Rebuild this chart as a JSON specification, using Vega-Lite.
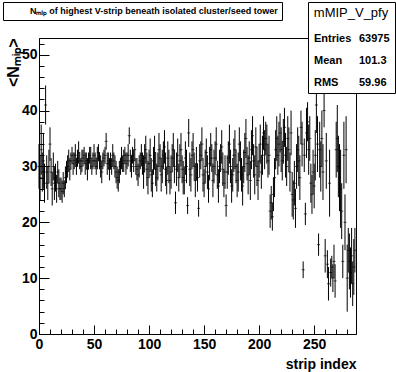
{
 "$schema": "https://vega.github.io/schema/vega-lite/v6.json",
 "width": 317, "height": 296,
 "autosize": {"type": "none"},
 "padding": {"left": 39, "top": 38, "right": 40, "bottom": 38},
 "background": "white",
 "config": {
  "view": {"stroke": "black", "strokeWidth": 1},
  "font": "Liberation Sans",
  "axis": {"domainColor": "black", "tickColor": "black", "labelColor": "black", "titleColor": "black", "grid": false, "labelFont": "Liberation Sans", "labelFontWeight": "bold", "labelFontSize": 14, "titleFont": "Liberation Sans", "titleFontWeight": "bold", "domainWidth": 1, "tickWidth": 1, "labelFlush": false, "labelOverlap": false}
 },
 "datasets": {
  "prof": [
{"s":0,"m":30,"e":4},{"s":1,"m":28,"e":4},{"s":2,"m":33,"e":4.5},{"s":3,"m":29,"e":3.5},{"s":4,"m":31,"e":5},{"s":5,"m":27,"e":3.5},{"s":6,"m":41,"e":3.5},{"s":7,"m":29,"e":3},{"s":8,"m":27,"e":3},{"s":9,"m":30,"e":3},
{"s":10,"m":34,"e":3},{"s":11,"m":29,"e":2.5},{"s":12,"m":26,"e":3},{"s":13,"m":30,"e":2.5},{"s":14,"m":27,"e":3},{"s":15,"m":28,"e":2.5},{"s":16,"m":26,"e":2.5},{"s":17,"m":29,"e":2},{"s":18,"m":27,"e":2.5},{"s":19,"m":26,"e":2},
{"s":20,"m":26,"e":2},{"s":21,"m":25.5,"e":2},{"s":22,"m":27,"e":2},{"s":23,"m":26,"e":1.5},{"s":24,"m":28,"e":2},{"s":25,"m":29,"e":2},{"s":26,"m":30,"e":2},{"s":27,"m":31,"e":2},{"s":28,"m":29.5,"e":2},{"s":29,"m":31,"e":1.5},
{"s":30,"m":32,"e":1.5},{"s":31,"m":30.5,"e":2},{"s":32,"m":31,"e":1.5},{"s":33,"m":32,"e":2},{"s":34,"m":30,"e":1.5},{"s":35,"m":31.5,"e":1.5},{"s":36,"m":32.5,"e":2},{"s":37,"m":31,"e":1.5},{"s":38,"m":30,"e":1.5},{"s":39,"m":31,"e":2},
{"s":40,"m":31.5,"e":1.5},{"s":41,"m":32,"e":1.5},{"s":42,"m":30.5,"e":2},{"s":43,"m":31,"e":1.5},{"s":44,"m":29.5,"e":2},{"s":45,"m":31,"e":1.5},{"s":46,"m":32,"e":1.5},{"s":47,"m":31.5,"e":2},{"s":48,"m":30,"e":1.5},{"s":49,"m":31,"e":1.5},
{"s":50,"m":32,"e":2},{"s":51,"m":31,"e":1.5},{"s":52,"m":30,"e":1.5},{"s":53,"m":31.5,"e":2},{"s":54,"m":32.5,"e":1.5},{"s":55,"m":31,"e":1.5},{"s":56,"m":30,"e":2},{"s":57,"m":29,"e":2},{"s":58,"m":31,"e":1.5},{"s":59,"m":31.5,"e":1.5},
{"s":60,"m":32,"e":1.5},{"s":61,"m":34.5,"e":1.5},{"s":62,"m":30.5,"e":2},{"s":63,"m":31,"e":1.5},{"s":64,"m":29.5,"e":2},{"s":65,"m":31,"e":1.5},{"s":66,"m":30,"e":1.5},{"s":67,"m":32,"e":2},{"s":68,"m":31,"e":1.5},{"s":69,"m":30,"e":2},
{"s":70,"m":29,"e":2},{"s":71,"m":28,"e":2},{"s":72,"m":27.5,"e":2},{"s":73,"m":29,"e":2},{"s":74,"m":30,"e":1.5},{"s":75,"m":31.5,"e":2},{"s":76,"m":30.5,"e":1.5},{"s":77,"m":31,"e":2},{"s":78,"m":32,"e":1.5},{"s":79,"m":30.5,"e":2},
{"s":80,"m":31,"e":1.5},{"s":81,"m":32,"e":2},{"s":82,"m":35.5,"e":1.5},{"s":83,"m":31,"e":2},{"s":84,"m":30,"e":2},{"s":85,"m":32,"e":1.5},{"s":86,"m":31,"e":2},{"s":87,"m":33,"e":2},{"s":88,"m":30,"e":1.5},{"s":89,"m":29.5,"e":2},
{"s":90,"m":28.5,"e":2},{"s":91,"m":30,"e":2},{"s":92,"m":31,"e":1.5},{"s":93,"m":32,"e":2},{"s":94,"m":30.5,"e":2},{"s":95,"m":29,"e":3},{"s":96,"m":31.5,"e":2.5},{"s":97,"m":33,"e":2.5},{"s":98,"m":29.5,"e":3},{"s":99,"m":28,"e":3},
{"s":100,"m":30.5,"e":2.5},{"s":101,"m":32,"e":3},{"s":102,"m":28.5,"e":3},{"s":103,"m":27,"e":2.5},{"s":104,"m":31,"e":2.5},{"s":105,"m":32.5,"e":3},{"s":106,"m":29.5,"e":3},{"s":107,"m":28,"e":2.5},{"s":108,"m":30,"e":2.5},{"s":109,"m":33,"e":3},
{"s":110,"m":31.5,"e":2.5},{"s":111,"m":28.5,"e":3},{"s":112,"m":30,"e":3},{"s":113,"m":32,"e":2.5},{"s":114,"m":33.5,"e":3},{"s":115,"m":29.5,"e":3},{"s":116,"m":27.5,"e":2.5},{"s":117,"m":31.5,"e":3},{"s":118,"m":30,"e":3},{"s":119,"m":27.5,"e":2.5},
{"s":120,"m":29,"e":3},{"s":121,"m":31.5,"e":2.5},{"s":122,"m":33,"e":3},{"s":123,"m":30,"e":3},{"s":124,"m":23.5,"e":2},{"s":125,"m":29.5,"e":3},{"s":126,"m":32,"e":3},{"s":127,"m":28,"e":2.5},{"s":128,"m":31,"e":3},{"s":129,"m":33,"e":3},
{"s":130,"m":29.5,"e":2.5},{"s":131,"m":28,"e":3},{"s":132,"m":27.5,"e":2.5},{"s":133,"m":31.5,"e":3},{"s":134,"m":30,"e":3},{"s":135,"m":23,"e":1.5},{"s":136,"m":36,"e":2.5},{"s":137,"m":29.5,"e":3},{"s":138,"m":28.5,"e":3},{"s":139,"m":32,"e":2.5},
{"s":140,"m":33,"e":3},{"s":141,"m":30,"e":2.5},{"s":142,"m":27.5,"e":3},{"s":143,"m":30.5,"e":3},{"s":144,"m":28,"e":2.5},{"s":145,"m":22.5,"e":1.5},{"s":146,"m":31,"e":3},{"s":147,"m":32,"e":2.5},{"s":148,"m":34,"e":3},{"s":149,"m":28.5,"e":3},
{"s":150,"m":27,"e":2.5},{"s":151,"m":30,"e":3},{"s":152,"m":32.5,"e":2.5},{"s":153,"m":29,"e":3},{"s":154,"m":26,"e":2.5},{"s":155,"m":30.5,"e":3},{"s":156,"m":33,"e":3},{"s":157,"m":31.5,"e":2.5},{"s":158,"m":27.5,"e":3},{"s":159,"m":30,"e":3},
{"s":160,"m":31.5,"e":3},{"s":161,"m":34,"e":3},{"s":162,"m":28.5,"e":2.5},{"s":163,"m":26.5,"e":3},{"s":164,"m":30,"e":3},{"s":165,"m":31.5,"e":2.5},{"s":166,"m":33.5,"e":3},{"s":167,"m":29.5,"e":3},{"s":168,"m":27,"e":2.5},{"s":169,"m":29,"e":3},
{"s":170,"m":23,"e":2},{"s":171,"m":29,"e":3},{"s":172,"m":31.5,"e":3},{"s":173,"m":34,"e":3.5},{"s":174,"m":30,"e":3},{"s":175,"m":26.5,"e":3},{"s":176,"m":28.5,"e":3},{"s":177,"m":32,"e":3},{"s":178,"m":33,"e":3.5},{"s":179,"m":30,"e":3},
{"s":180,"m":27.5,"e":3},{"s":181,"m":29,"e":3.5},{"s":182,"m":34,"e":3},{"s":183,"m":31,"e":3.5},{"s":184,"m":28.5,"e":3},{"s":185,"m":26.5,"e":3.5},{"s":186,"m":30,"e":3},{"s":187,"m":32.5,"e":3.5},{"s":188,"m":35,"e":3.5},{"s":189,"m":30.5,"e":3},
{"s":190,"m":28.5,"e":3.5},{"s":191,"m":31.5,"e":3},{"s":192,"m":27.5,"e":3.5},{"s":193,"m":33,"e":3.5},{"s":194,"m":35.5,"e":3.5},{"s":195,"m":31,"e":3},{"s":196,"m":28.5,"e":3.5},{"s":197,"m":33.5,"e":3.5},{"s":198,"m":30,"e":3.5},{"s":199,"m":27.5,"e":3.5},
{"s":200,"m":31,"e":3},{"s":201,"m":34,"e":3.5},{"s":202,"m":29,"e":3},{"s":203,"m":32,"e":3.5},{"s":204,"m":36,"e":3},{"s":205,"m":33,"e":3.5},{"s":206,"m":35,"e":3},{"s":207,"m":34,"e":3.5},{"s":208,"m":31,"e":3},{"s":209,"m":32,"e":3.5},
{"s":210,"m":22,"e":3},{"s":211,"m":23.5,"e":3},{"s":212,"m":21,"e":2.5},{"s":213,"m":25,"e":3},{"s":214,"m":28,"e":3.5},{"s":215,"m":33,"e":3.5},{"s":216,"m":35,"e":4},{"s":217,"m":32,"e":3.5},{"s":218,"m":34,"e":4},{"s":219,"m":36,"e":3.5},
{"s":220,"m":33,"e":4},{"s":221,"m":31,"e":3.5},{"s":222,"m":34.5,"e":4},{"s":223,"m":37,"e":3.5},{"s":224,"m":32,"e":4},{"s":225,"m":30,"e":3.5},{"s":226,"m":35,"e":4},{"s":227,"m":33,"e":4},{"s":228,"m":29,"e":3.5},{"s":229,"m":36,"e":4},
{"s":230,"m":25,"e":4},{"s":231,"m":24,"e":3.5},{"s":232,"m":27,"e":4},{"s":233,"m":22.5,"e":3.5},{"s":234,"m":30,"e":4},{"s":235,"m":33,"e":4},{"s":236,"m":31,"e":4.5},{"s":237,"m":28,"e":4},{"s":238,"m":37,"e":3},{"s":239,"m":34,"e":4},
{"s":240,"m":11.5,"e":1.5},{"s":241,"m":32,"e":3},{"s":242,"m":21.5,"e":2},{"s":243,"m":36,"e":4.5},{"s":244,"m":38,"e":3.5},{"s":245,"m":33,"e":4.5},{"s":246,"m":35,"e":4},{"s":247,"m":27,"e":3.5},{"s":248,"m":25,"e":3.5},{"s":249,"m":29,"e":4},
{"s":250,"m":26.5,"e":4},{"s":251,"m":32,"e":4.5},{"s":252,"m":41,"e":5},{"s":253,"m":34,"e":5},{"s":254,"m":16,"e":2},{"s":255,"m":33,"e":5},{"s":256,"m":30,"e":4.5},{"s":257,"m":35,"e":5},{"s":258,"m":29,"e":5},{"s":259,"m":40,"e":3},
{"s":260,"m":14,"e":3},{"s":261,"m":31,"e":5},{"s":262,"m":12.5,"e":2.5},{"s":263,"m":9,"e":3},{"s":264,"m":27,"e":6},{"s":265,"m":11,"e":2.5},{"s":266,"m":12,"e":2},{"s":267,"m":10,"e":2.5},{"s":268,"m":13,"e":3},{"s":269,"m":9.5,"e":3},
{"s":270,"m":33,"e":5},{"s":271,"m":35,"e":6},{"s":272,"m":30,"e":5.5},{"s":273,"m":28,"e":6},{"s":274,"m":26,"e":7},{"s":275,"m":22,"e":5},{"s":276,"m":13,"e":3},{"s":277,"m":32,"e":6},{"s":278,"m":20,"e":5},{"s":279,"m":33,"e":6},
{"s":280,"m":10,"e":6},{"s":281,"m":15,"e":4},{"s":282,"m":13,"e":5},{"s":283,"m":11,"e":4.5},{"s":284,"m":14,"e":5},{"s":285,"m":9,"e":4},{"s":286,"m":12,"e":5},{"s":287,"m":15,"e":4}
  ],
  "stats": [{"k": "Entries"}, {"k": "63975"}, {"k": "Mean"}, {"k": "101.3"}, {"k": "RMS"}, {"k": "59.96"}],
  "ttl": [{"t": "Nₘᵢₚ of highest V-strip beneath isolated cluster/seed tower"}]
 },
 "resolve": {"axis": {"x": "independent", "y": "independent"}},
 "layer": [
  {
   "data": {"name": "prof"},
   "mark": {"type": "errorbar", "color": "black", "thickness": 1},
   "encoding": {
    "x": {"field": "s", "type": "quantitative", "scale": {"domain": [0, 288], "nice": false, "zero": false},
     "axis": {"orient": "bottom", "title": "strip index", "values": [0, 50, 100, 150, 200, 250],
      "labelOverlap": false, "labelFlush": false, "tickSize": -9,
      "labelPadding": 12, "titleFontSize": 14, "titleAnchor": "end", "titleAlign": "right", "titleBaseline": "alphabetic", "titleX": 317, "titleY": 34}},
    "y": {"field": "m", "type": "quantitative", "scale": {"domain": [0, 53], "nice": false},
     "axis": {"orient": "left", "title": "<Nₘᵢₚ>", "values": [0, 10, 20, 30, 40, 50],
      "labelOverlap": false, "labelFlush": false, "tickSize": -10,
      "labelPadding": 12, "titleFontSize": 16, "titleAngle": -90, "titleAlign": "right", "titleBaseline": "alphabetic", "titleX": -21, "titleY": 0}},
    "yError": {"field": "e"}
   }
  },
  {
   "data": {"name": "prof"},
   "mark": {"type": "tick", "orient": "horizontal", "color": "black", "size": 3, "thickness": 1},
   "encoding": {
    "x": {"field": "s", "type": "quantitative",
     "axis": {"orient": "bottom", "title": null, "labels": false, "domain": false, "tickSize": -5,
      "values": [0,10,20,30,40,60,70,80,90,110,120,130,140,160,170,180,190,210,220,230,240,260,270,280]}},
    "y": {"field": "m", "type": "quantitative",
     "axis": {"orient": "left", "title": null, "labels": false, "domain": false, "tickSize": -5,
      "values": [2,4,6,8,12,14,16,18,22,24,26,28,32,34,36,38,42,44,46,48,52]}}
   }
  },
  {
   "data": {"name": "stats"},
   "mark": {"type": "point", "opacity": 0},
   "encoding": {
    "color": {"field": "k", "type": "nominal", "scale": {"domain": ["Entries", "63975", "Mean", "101.3", "RMS", "59.96"], "range": ["black", "black", "black", "black", "black", "black"]},
     "legend": {"title": "mMIP_V_pfy", "orient": "none", "legendX": 269, "legendY": -36, "direction": "horizontal", "columns": 2, "columnPadding": 6, "rowPadding": 10, "padding": 5,
      "strokeColor": "black", "fillColor": "white", "symbolSize": 0, "symbolOpacity": 0, "symbolStrokeWidth": 0, "labelOffset": -10,
      "labelFont": "Liberation Sans", "labelFontSize": 11, "labelFontWeight": "bold", "labelColor": "black",
      "titleFont": "Liberation Sans", "titleFontSize": 13, "titleFontWeight": "normal", "titleColor": "black", "titleAnchor": "middle", "titlePadding": 13}}
   }
  },
  {
   "data": {"name": "ttl"},
   "mark": {"type": "point", "opacity": 0},
   "encoding": {
    "shape": {"field": "t", "type": "nominal",
     "legend": {"title": null, "orient": "none", "legendX": -36, "legendY": -36, "padding": 4,
      "strokeColor": "black", "fillColor": "white", "symbolSize": 0, "symbolOpacity": 0, "symbolStrokeWidth": 0, "labelOffset": 14,
      "labelFont": "Liberation Sans", "labelFontSize": 9, "labelFontWeight": "bold", "labelColor": "black", "labelLimit": 500}}
   }
  }
 ]
}
